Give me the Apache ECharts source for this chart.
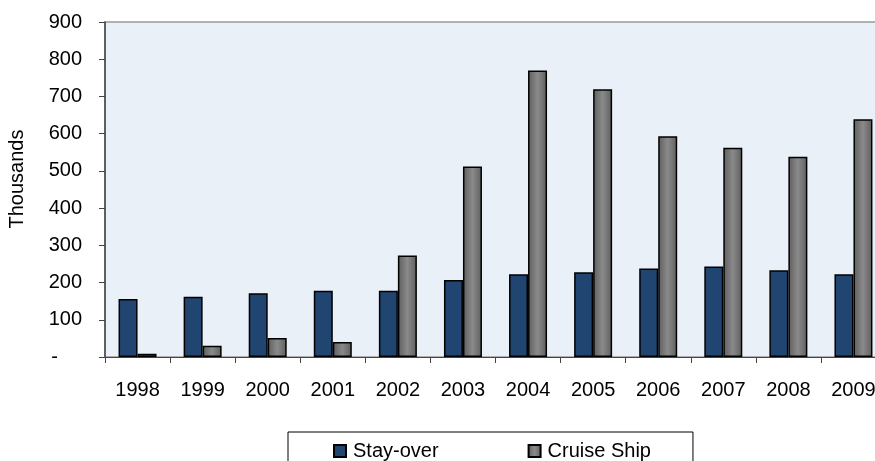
<html>

<head>
  <meta charset="utf-8">
  <title>Visitor arrivals</title>
  <script src="https://cdn.jsdelivr.net/npm/echarts@6/dist/echarts.min.js"></script>
  <style>
    body { margin: 0; background: #fff; }
  </style>
</head>

<body>
  <div id="main" style="width: 875px;height:461px;"></div>
  <script type="text/javascript">
    // values in thousands
    var years = ['1998', '1999', '2000', '2001', '2002', '2003', '2004', '2005', '2006', '2007', '2008', '2009'];
    var stayOver = [156, 162, 171, 178, 178, 207, 222, 228, 238, 243, 233, 222];
    var cruiseShip = [9, 30, 51, 40, 273, 512, 770, 719, 593, 562, 538, 639];
    var yTicks = [0, 100, 200, 300, 400, 500, 600, 700, 800, 900];

    var font = 'Arial, "Liberation Sans", sans-serif';
    var myChart = echarts.init(document.getElementById('main'));

    var grayFill = new echarts.graphic.LinearGradient(0, 0, 1, 0, [
      { offset: 0, color: '#5e5e5e' },
      { offset: 0.5, color: '#8a8a8a' },
      { offset: 1, color: '#5e5e5e' }
    ]);

    myChart.setOption({
      animation: false,
      textStyle: { fontFamily: font },
      grid: {
        left: 105,
        top: 22,
        width: 781,
        bottom: 104,
        outerBoundsMode: 'none',
        show: true,
        backgroundColor: '#eaf0f8',
        borderColor: '#999',
        borderWidth: 1.5
      },
      graphic: [{
        type: 'text',
        x: 17,
        y: 179,
        rotation: Math.PI / 2,
        style: {
          text: 'Thousands',
          fontFamily: font,
          fontSize: 20,
          fill: '#000',
          align: 'center',
          verticalAlign: 'middle'
        }
      }],
      legend: {
        data: ['Stay-over', 'Cruise Ship'],
        left: 288,
        top: 432,
        width: 405,
        padding: [9, 42, 30, 45],
        itemGap: 89,
        itemWidth: 12,
        itemHeight: 12,
        icon: 'rect',
        borderColor: '#000',
        borderWidth: 1,
        textStyle: { fontFamily: font, fontSize: 20, color: '#000', padding: [0, 0, 0, 2] }
      },
      xAxis: {
        type: 'category',
        data: years,
        axisLine: { lineStyle: { color: '#444', width: 1 } },
        axisTick: { show: true, length: 6, lineStyle: { color: '#444' } },
        axisLabel: { fontFamily: font, fontSize: 20, color: '#000', margin: 23 },
        splitLine: { show: false }
      },
      yAxis: {
        type: 'value',
        min: yTicks[0],
        max: yTicks[yTicks.length - 1],
        interval: 100,
        axisLine: { show: true, lineStyle: { color: '#444', width: 1.5 } },
        axisTick: { show: true, length: 6, lineStyle: { color: '#444' } },
        splitLine: { show: false },
        axisLabel: {
          fontFamily: font,
          fontSize: 20,
          color: '#000',
          margin: 23,
          formatter: function (v) { return v === 0 ? '{d|-}' : String(v); },
          rich: { d: { fontFamily: font, fontSize: 20, color: '#000', padding: [0, 24, 0, 0] } }
        }
      },
      series: [{
        name: 'Stay-over',
        type: 'bar',
        data: stayOver,
        barWidth: 19,
        barGap: '0%',
        itemStyle: { color: '#1f4570', borderColor: '#000', borderWidth: 1.5 }
      }, {
        name: 'Cruise Ship',
        type: 'bar',
        data: cruiseShip,
        barWidth: 19,
        barGap: '0%',
        itemStyle: { color: grayFill, borderColor: '#000', borderWidth: 1.5 }
      }]
    });
  </script>
</body>

</html>
